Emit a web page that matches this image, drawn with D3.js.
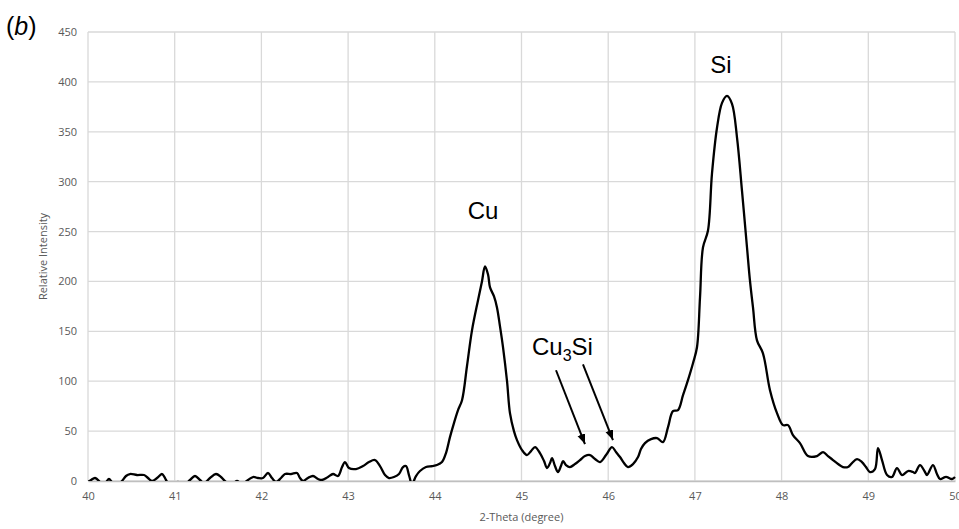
<!DOCTYPE html>
<html>
<head>
<meta charset="utf-8">
<script src="https://cdn.jsdelivr.net/npm/d3@7"></script>
<style>
body { margin: 0; background: #fff; }
svg text { font-family: "Open Sans", "Liberation Sans", sans-serif; }
</style>
</head>
<body>
<svg id="chart" width="959" height="529"></svg>
<script>
// 2-theta positions (degree) and relative intensity
var theta = [40.000,40.035,40.081,40.127,40.161,40.208,40.242,40.277,40.334,40.392,40.438,40.484,40.565,40.646,40.692,40.738,40.796,40.854,40.900,40.946,
  41.038,41.107,41.176,41.234,41.292,41.338,41.407,41.476,41.534,41.592,41.661,41.719,41.776,41.845,41.903,41.961,42.018,42.076,42.122,42.168,
  42.226,42.272,42.341,42.411,42.445,42.480,42.537,42.595,42.653,42.699,42.768,42.826,42.884,42.930,42.964,43.010,43.091,43.172,43.241,43.310,
  43.368,43.426,43.472,43.529,43.587,43.633,43.668,43.702,43.737,43.783,43.829,43.898,43.968,44.025,44.083,44.129,44.175,44.221,44.268,44.314,
  44.371,44.429,44.498,44.544,44.579,44.614,44.637,44.683,44.717,44.752,44.787,44.833,44.867,44.913,44.948,45.006,45.063,45.110,45.156,45.213,
  45.260,45.294,45.329,45.352,45.386,45.421,45.455,45.479,45.513,45.559,45.617,45.675,45.732,45.790,45.848,45.905,45.975,46.044,46.090,46.136,
  46.182,46.228,46.286,46.344,46.378,46.424,46.494,46.563,46.632,46.690,46.747,46.805,46.863,46.909,46.978,47.024,47.059,47.093,47.151,47.197,
  47.255,47.313,47.370,47.428,47.486,47.543,47.601,47.636,47.670,47.716,47.785,47.866,47.947,48.016,48.074,48.131,48.212,48.304,48.408,48.478,
  48.535,48.593,48.651,48.708,48.766,48.812,48.870,48.927,48.973,49.019,49.077,49.112,49.158,49.216,49.273,49.331,49.389,49.458,49.516,49.539,
  49.596,49.654,49.677,49.746,49.792,49.827,49.885,49.908,49.965,50.000];
var intensity = [-1,1,3,0,-4,-1,2,-1,-5,0,5,7,6,6,3,0,3,7,1,-5,
  -1,-4,1,5,1,-2,3,7,4,-1,-3,0,-3,1,4,3,3,8,3,-1,
  3,7,7,8,3,0,3,5,2,1,4,7,5,14,19,13,12,15,19,21,
  15,6,3,4,7,14,15,6,-3,5,10,14,15,16,19,28,44,58,71,81,
  115,151,181,200,215,207,194,185,174,155,134,100,68,50,41,31,26,30,34,28,
  20,13,18,23,15,9,15,20,16,14,17,21,25,26,22,19,26,34,29,24,
  18,14,17,24,32,38,42,43,39,54,70,71,86,98,118,134,184,234,251,308,
  354,379,386,378,344,291,234,200,174,141,128,91,68,56,56,46,38,25,25,29,
  25,21,17,14,14,18,22,19,14,9,12,33,21,6,4,13,6,10,9,8,
  16,9,6,16,7,2,4,4,2,4];

var xTicks = [40,41,42,43,44,45,46,47,48,49,50];
var yTicks = [0,50,100,150,200,250,300,350,400,450];

// peak labels and arrows (in data units)
var peakLabels = [
  {name: "Cu", x: 44.556, y: 263},
  {name: "Si", x: 47.301, y: 409}
];
var arrows = [
  {x1: 45.398, y1: 111, x2: 45.732, y2: 37},
  {x1: 45.709, y1: 117, x2: 46.055, y2: 41}
];

var svg = d3.select("#chart");
var mLeft = 88, mRight = 955, mTop = 32, mBottom = 481;

var x = d3.scaleLinear().domain([40, 50]).range([mLeft, mRight]);
var y = d3.scaleLinear().domain([0, 450]).range([mBottom, mTop]);

// grid
svg.append("g")
  .selectAll("line").data(yTicks).enter().append("line")
  .attr("x1", mLeft).attr("x2", mRight)
  .attr("y1", function(d) { return y(d); }).attr("y2", function(d) { return y(d); })
  .attr("stroke", "#d9d9d9").attr("stroke-width", 1.3);
svg.append("g")
  .selectAll("line").data(xTicks).enter().append("line")
  .attr("x1", function(d) { return x(d); }).attr("x2", function(d) { return x(d); })
  .attr("y1", mTop).attr("y2", mBottom)
  .attr("stroke", "#d9d9d9").attr("stroke-width", 1.3);

// axes (labels only, Excel style)
var xAxis = svg.append("g").attr("transform", "translate(0," + mBottom + ")")
  .call(d3.axisBottom(x).tickValues(xTicks).tickSize(0).tickPadding(11).tickFormat(d3.format("d")));
xAxis.select(".domain").attr("stroke", "#bfbfbf").attr("stroke-width", 1.3);
xAxis.selectAll("text").attr("fill", "#595959").style("font-size", "11px");

var yAxis = svg.append("g").attr("transform", "translate(" + mLeft + ",0)")
  .call(d3.axisLeft(y).tickValues(yTicks).tickSize(0).tickPadding(11).tickFormat(d3.format("d")));
yAxis.select(".domain").remove();
yAxis.selectAll("text").attr("fill", "#595959").style("font-size", "11px");

svg.append("text")
  .attr("x", (mLeft + mRight) / 2).attr("y", 521)
  .attr("text-anchor", "middle").attr("fill", "#595959").style("font-size", "11px")
  .text("2-Theta (degree)");
svg.append("text")
  .attr("transform", "translate(47," + ((mTop + mBottom) / 2) + ") rotate(-90)")
  .attr("text-anchor", "middle").attr("fill", "#595959").style("font-size", "11px")
  .text("Relative Intensity");

// curve
svg.append("clipPath").attr("id", "plotclip")
  .append("rect").attr("x", mLeft).attr("y", mTop - 5).attr("width", mRight - mLeft + 4).attr("height", mBottom - mTop + 5);

var pts = theta.map(function(t, i) { return [t, intensity[i]]; });
var line = d3.line()
  .x(function(d) { return x(d[0]); })
  .y(function(d) { return y(d[1]); })
  .curve(d3.curveCatmullRom.alpha(0.5));

svg.append("path")
  .datum(pts)
  .attr("clip-path", "url(#plotclip)")
  .attr("d", line)
  .attr("fill", "none")
  .attr("stroke", "#000")
  .attr("stroke-width", 2.3)
  .attr("stroke-linejoin", "round");

// annotations
svg.append("defs").append("marker")
  .attr("id", "arr")
  .attr("viewBox", "0 -5 10 10")
  .attr("refX", 10).attr("refY", 0)
  .attr("markerWidth", 5).attr("markerHeight", 5)
  .attr("markerUnits", "strokeWidth")
  .attr("orient", "auto")
  .append("path").attr("d", "M0,-4L10,0L0,4Z").attr("fill", "#000");

svg.selectAll("line.arrow").data(arrows).enter().append("line")
  .attr("class", "arrow")
  .attr("x1", function(d) { return x(d.x1); }).attr("y1", function(d) { return y(d.y1); })
  .attr("x2", function(d) { return x(d.x2); }).attr("y2", function(d) { return y(d.y2); })
  .attr("stroke", "#000").attr("stroke-width", 2)
  .attr("marker-end", "url(#arr)");

svg.selectAll("text.peak").data(peakLabels).enter().append("text")
  .attr("class", "peak")
  .attr("x", function(d) { return x(d.x); }).attr("y", function(d) { return y(d.y); })
  .attr("text-anchor", "middle")
  .style("font-family", "'Liberation Sans', Arial, sans-serif")
  .style("font-size", "24px")
  .text(function(d) { return d.name; });

var cs = svg.append("text")
  .attr("x", x(45.121)).attr("y", y(126))
  .style("font-family", "'Liberation Sans', Arial, sans-serif")
  .style("font-size", "24px");
cs.append("tspan").text("Cu");
cs.append("tspan").attr("dy", 6).style("font-size", "16px").text("3");
cs.append("tspan").attr("dy", -6).text("Si");

var lab = svg.append("text").attr("x", 6).attr("y", 35)
  .style("font-family", "'Liberation Sans', Arial, sans-serif")
  .style("font-size", "25px");
lab.append("tspan").text("(");
lab.append("tspan").style("font-style", "italic").text("b");
lab.append("tspan").text(")");
</script>
</body>
</html>
